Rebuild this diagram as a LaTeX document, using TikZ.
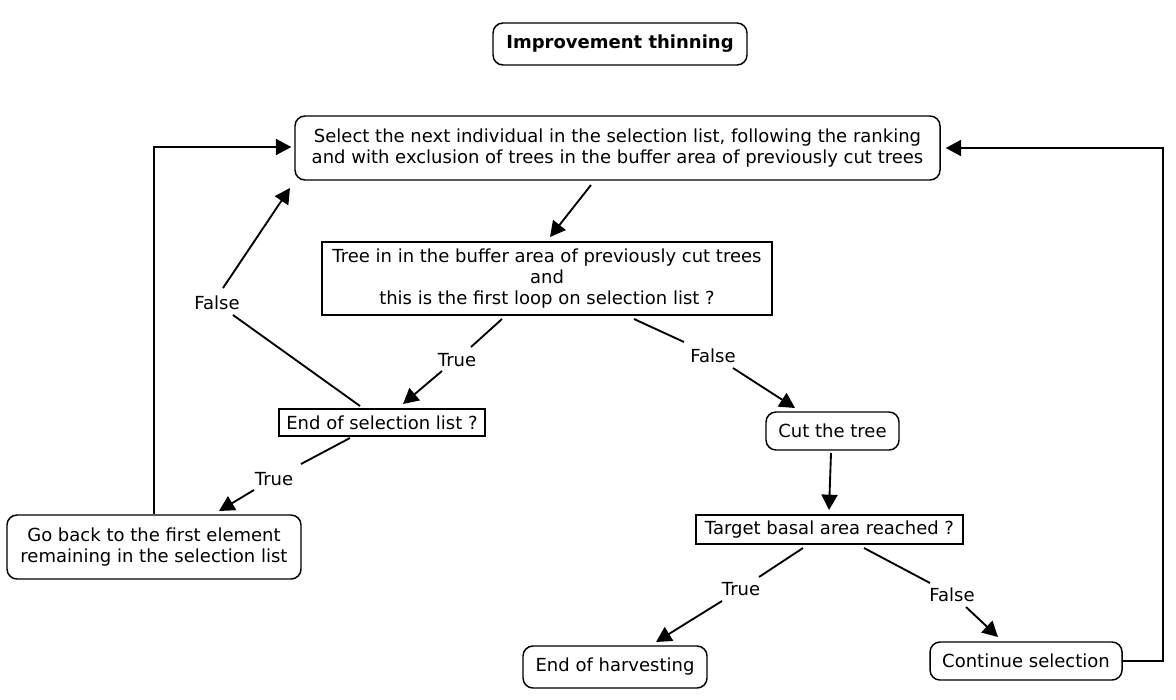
\documentclass[tikz,border=0pt]{standalone}
\usepackage{fontspec}
\setmainfont{DejaVu Sans}
\usetikzlibrary{arrows.meta,calc}
\begin{document}
\begin{tikzpicture}[x=0.75pt,y=-0.75pt,
  txt/.style={font=\fontsize{13.5pt}{16pt}\selectfont, align=center, inner sep=0pt},
  rbox/.style={txt, draw, line width=1.1pt, rounded corners=7.5pt},
  sbox/.style={txt, draw, line width=1.1pt},
  lbl/.style={txt},
  conn/.style={line width=1.4pt},
  arr/.style={conn, -{Triangle[length=11.5pt,width=12pt]}},
]
\useasboundingbox[fill=white] (0,0) rectangle (1176,699);

% nodes
\node[rbox, minimum width=254*0.75pt, minimum height=42*0.75pt,
      font=\fontsize{13.5pt}{16pt}\selectfont\bfseries] (title) at (620,44) {Improvement thinning};
\node[rbox, minimum width=645*0.75pt, minimum height=64*0.75pt] (select) at (617.5,148)
  {Select the next individual in the selection list, following the ranking\\and with exclusion of trees in the buffer area of previously cut trees};
\node[sbox, minimum width=450*0.75pt, minimum height=73*0.75pt] (tree) at (547,278.5)
  {Tree in in the buffer area of previously cut trees\\and\\this is the first loop on selection list ?};
\node[sbox, minimum width=206*0.75pt, minimum height=27*0.75pt] (endsel) at (382,422.5) {End of selection list ?};
\node[rbox, minimum width=294*0.75pt, minimum height=64*0.75pt] (goback) at (154,547)
  {Go back to the first element\\remaining in the selection list};
\node[rbox, minimum width=133*0.75pt, minimum height=38*0.75pt] (cut) at (832.5,431) {Cut the tree};
\node[sbox, minimum width=267*0.75pt, minimum height=29*0.75pt] (target) at (829.5,529.5) {Target basal area reached ?};
\node[rbox, minimum width=184*0.75pt, minimum height=42*0.75pt] (endharv) at (615,667) {End of harvesting};
\node[rbox, minimum width=192*0.75pt, minimum height=38*0.75pt] (cont) at (1026,661) {Continue selection};

% labels
\node[lbl] (l1) at (457,360) {True};
\node[lbl] (l2) at (713,356) {False};
\node[lbl] (l3) at (217,303) {False};
\node[lbl] (l4) at (274,479) {True};
\node[lbl] (l5) at (741,589) {True};
\node[lbl] (l6) at (952,595) {False};

% connectors
\draw[arr] ($(select.center)+(-26.5,37)$) -- ($(tree.center)+(3,-41.5)$);

\draw[conn] ($(tree.center)+(-45,40.5)$) -- ($(l1.center)+(14,-13)$);
\draw[arr] ($(l1.center)+(-15,11)$) -- ($(endsel.center)+(21,-18.5)$);

\draw[conn] ($(tree.center)+(87,40.5)$) -- ($(l2.center)+(-29,-14)$);
\draw[arr] ($(l2.center)+(20,12)$) -- ($(cut.center)+(-37.5,-23)$);

\draw[conn] ($(endsel.center)+(-22,-16.5)$) -- ($(l3.center)+(16,12)$);
\draw[arr] ($(l3.center)+(6,-15)$) -- ($(select.center)+(-327.5,40)$);

\draw[conn] ($(endsel.center)+(-32,15.5)$) -- ($(l4.center)+(27,-15)$);
\draw[arr] ($(l4.center)+(-20,11)$) -- ($(goback.center)+(65,-36)$);

\draw[arr] (goback.north) |- ($(select.west)+(-3,-1)$);

\draw[arr] ($(cut.center)+(-1.5,22)$) -- ($(target.center)+(-0.5,-19.5)$);

\draw[conn] ($(target.center)+(-26.5,18.5)$) -- ($(l5.center)+(18,-12)$);
\draw[arr] ($(l5.center)+(-19,12)$) -- ($(endharv.center)+(41,-25)$);

\draw[conn] ($(target.center)+(34.5,18.5)$) -- ($(l6.center)+(-22,-12)$);
\draw[arr] ($(l6.center)+(14,12)$) -- ($(cont.center)+(-28,-24)$);

\coordinate (rc) at (1163,661);
\draw[arr] (cont.east) -- (rc) |- ($(select.east)+(5,0)$);
\end{tikzpicture}
\end{document}
